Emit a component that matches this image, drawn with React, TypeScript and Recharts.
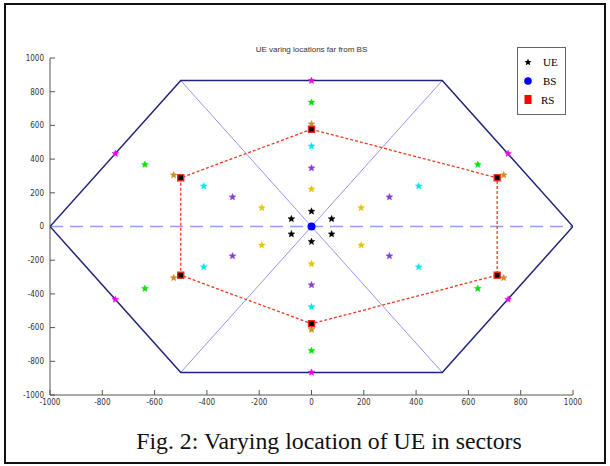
import React from "react"
import { ScatterChart, Scatter, XAxis, YAxis } from "recharts"

// axis ticks
const xTicks = [-1000, -800, -600, -400, -200, 0, 200, 400, 600, 800, 1000]
const yTicks = [-1000, -800, -600, -400, -200, 0, 200, 400, 600, 800, 1000]

// cell outline and sector lines
const outerHex = [
    { x: -1000, y: 0 }, { x: -500, y: 866 }, { x: 500, y: 866 },
    { x: 1000, y: 0 }, { x: 500, y: -866 }, { x: -500, y: -866 }, { x: -1000, y: 0 },
]
const diagA = [{ x: -500, y: 866 }, { x: 500, y: -866 }]
const diagB = [{ x: 500, y: 866 }, { x: -500, y: -866 }]
const midLine = [{ x: -1000, y: 0 }, { x: 1000, y: 0 }]

// relay stations
const rsPoints = [
    { x: 0, y: 577 }, { x: 710, y: 289 }, { x: 710, y: -289 },
    { x: 0, y: -577 }, { x: -500, y: -289 }, { x: -500, y: 289 },
]
const rsLoop = [...rsPoints, rsPoints[0]]

const bsPoint = [{ x: 0, y: 0 }]

// UE positions, one ring per colour
const ueBlack = [
    { x: 0, y: 90 }, { x: 0, y: -90 }, { x: -77, y: 45 }, { x: -77, y: -45 }, { x: 77, y: 45 }, { x: 77, y: -45 },
]
const ueYellow = [
    { x: 0, y: 222 }, { x: 0, y: -222 }, { x: -190, y: 111 }, { x: -190, y: -111 }, { x: 190, y: 111 }, { x: 190, y: -111 },
]
const uePurple = [
    { x: 0, y: 347 }, { x: 0, y: -347 }, { x: -302, y: 175 }, { x: -302, y: -175 }, { x: 298, y: 175 }, { x: 298, y: -175 },
]
const ueCyan = [
    { x: 0, y: 477 }, { x: 0, y: -477 }, { x: -412, y: 240 }, { x: -412, y: -240 }, { x: 410, y: 240 }, { x: 410, y: -240 },
]
const ueOrange = [
    { x: 0, y: 608 }, { x: 0, y: -612 }, { x: -527, y: 305 }, { x: -527, y: -305 }, { x: 735, y: 305 }, { x: 735, y: -305 },
]
const ueGreen = [
    { x: 0, y: 737 }, { x: 0, y: -737 }, { x: -637, y: 368 }, { x: -637, y: -368 }, { x: 636, y: 368 }, { x: 636, y: -368 },
]
const ueMagenta = [
    { x: 0, y: 866 }, { x: 0, y: -866 }, { x: -750, y: 433 }, { x: -750, y: -433 }, { x: 752, y: 433 }, { x: 752, y: -433 },
]

function starPath(cx: number, cy: number, r: number) {
    let d = ""
    for (let i = 0; i < 10; i++) {
        const rr = i % 2 === 0 ? r : r * 0.45
        const a = -Math.PI / 2 + (i * Math.PI) / 5
        d += (i === 0 ? "M" : "L") + (cx + rr * Math.cos(a)).toFixed(2) + "," + (cy + rr * Math.sin(a)).toFixed(2)
    }
    return d + "Z"
}

const star = (color: string) => (props: any) => (
    <path d={starPath(props.cx, props.cy, 3.6)} fill={color} stroke={color} strokeWidth={0.4} />
)

const noDot = () => <g />

const rsShape = (props: any) => (
    <rect x={props.cx - 3} y={props.cy - 3} width={6} height={6} fill="#000" stroke="#ee2a1a" strokeWidth={1.4} />
)

const bsShape = (props: any) => <circle cx={props.cx} cy={props.cy} r={4} fill="#0000ff" />

const tickStyle = { fontSize: 8, fill: "#333", fontFamily: "'Liberation Sans Narrow', 'DejaVu Sans Condensed', Arial, sans-serif" }

function LegendBox() {
    const row = { display: "flex", alignItems: "center", height: 19 }
    const label = { marginLeft: 11, fontSize: 11 }
    return (
        <div style={{ position: "absolute", left: 517, top: 47, width: 49, height: 68, border: "1px solid #666", background: "#fff", fontFamily: "'Liberation Serif', 'Times New Roman', serif", padding: "4px 0 0 6px", boxSizing: "border-box" }}>
            <div style={row}>
                <svg width={8} height={8}><path d={starPath(4, 4.3, 3.8)} fill="#000" /></svg>
                <span style={label}>UE</span>
            </div>
            <div style={row}>
                <svg width={8} height={8}><circle cx={4} cy={4} r={3.8} fill="#0000ff" /></svg>
                <span style={label}>BS</span>
            </div>
            <div style={row}>
                <svg width={8} height={9}><rect x={0.5} y={0} width={7} height={9} fill="#ff0000" /></svg>
                <span style={{ ...label, marginLeft: 9 }}>RS</span>
            </div>
        </div>
    )
}

export default function App() {
    return (
        <div style={{ position: "absolute", left: 0, top: 0, width: 610, height: 466, background: "#fff" }}>
            <div style={{ position: "absolute", left: 4, top: 3, width: 602, height: 461, border: "2px solid #111", boxSizing: "border-box" }} />
            <div style={{ position: "absolute", left: 0, width: 623, top: 45, textAlign: "center", fontSize: 8, color: "#333", fontFamily: "Arial, 'Liberation Sans', sans-serif" }}>
                UE varing locations far from BS
            </div>
            <div style={{ position: "absolute", left: 0, top: 0 }}>
                <ScatterChart width={610} height={466} margin={{ top: 58, right: 37, bottom: 51, left: 10 }}>
                    <XAxis
                        type="number"
                        dataKey="x"
                        domain={[-1000, 1000]}
                        ticks={xTicks}
                        allowDataOverflow
                        height={20}
                        stroke="#555"
                        tickSize={-5}
                        tickMargin={9}
                        tick={tickStyle}
                    />
                    <YAxis
                        type="number"
                        dataKey="y"
                        domain={[-1000, 1000]}
                        ticks={yTicks}
                        allowDataOverflow
                        width={40}
                        stroke="#555"
                        tickSize={-5}
                        tickMargin={11}
                        tick={tickStyle}
                    />
                    <Scatter data={diagA} line={{ stroke: "#7a7af0", strokeWidth: 0.8 }} shape={noDot} legendType="none" isAnimationActive={false} />
                    <Scatter data={diagB} line={{ stroke: "#7a7af0", strokeWidth: 0.8 }} shape={noDot} legendType="none" isAnimationActive={false} />
                    <Scatter data={midLine} line={{ stroke: "#9a9af0", strokeWidth: 1.6, strokeDasharray: "13 7" }} shape={noDot} legendType="none" isAnimationActive={false} />
                    <Scatter data={outerHex} line={{ stroke: "#22227a", strokeWidth: 1.5 }} shape={noDot} legendType="none" isAnimationActive={false} />
                    <Scatter data={rsLoop} line={{ stroke: "#ee3a22", strokeWidth: 1.3, strokeDasharray: "3 2" }} shape={noDot} legendType="none" isAnimationActive={false} />
                    <Scatter data={ueYellow} shape={star("#e8c400")} isAnimationActive={false} />
                    <Scatter data={uePurple} shape={star("#8a3fd0")} isAnimationActive={false} />
                    <Scatter data={ueCyan} shape={star("#00e8f0")} isAnimationActive={false} />
                    <Scatter data={ueOrange} shape={star("#d08a20")} isAnimationActive={false} />
                    <Scatter data={ueGreen} shape={star("#00e400")} isAnimationActive={false} />
                    <Scatter data={ueMagenta} shape={star("#ee00ee")} isAnimationActive={false} />
                    <Scatter data={ueBlack} shape={star("#000")} isAnimationActive={false} />
                    <Scatter data={rsPoints} shape={rsShape} isAnimationActive={false} />
                    <Scatter data={bsPoint} shape={bsShape} isAnimationActive={false} />
                </ScatterChart>
            </div>
            <LegendBox />
            <div style={{ position: "absolute", left: 0, width: 658, top: 430, textAlign: "center", fontSize: 23.8, lineHeight: "22px", fontFamily: "'Liberation Serif', 'Times New Roman', serif", color: "#111" }}>
                Fig. 2: Varying location of UE in sectors
            </div>
        </div>
    )
}
